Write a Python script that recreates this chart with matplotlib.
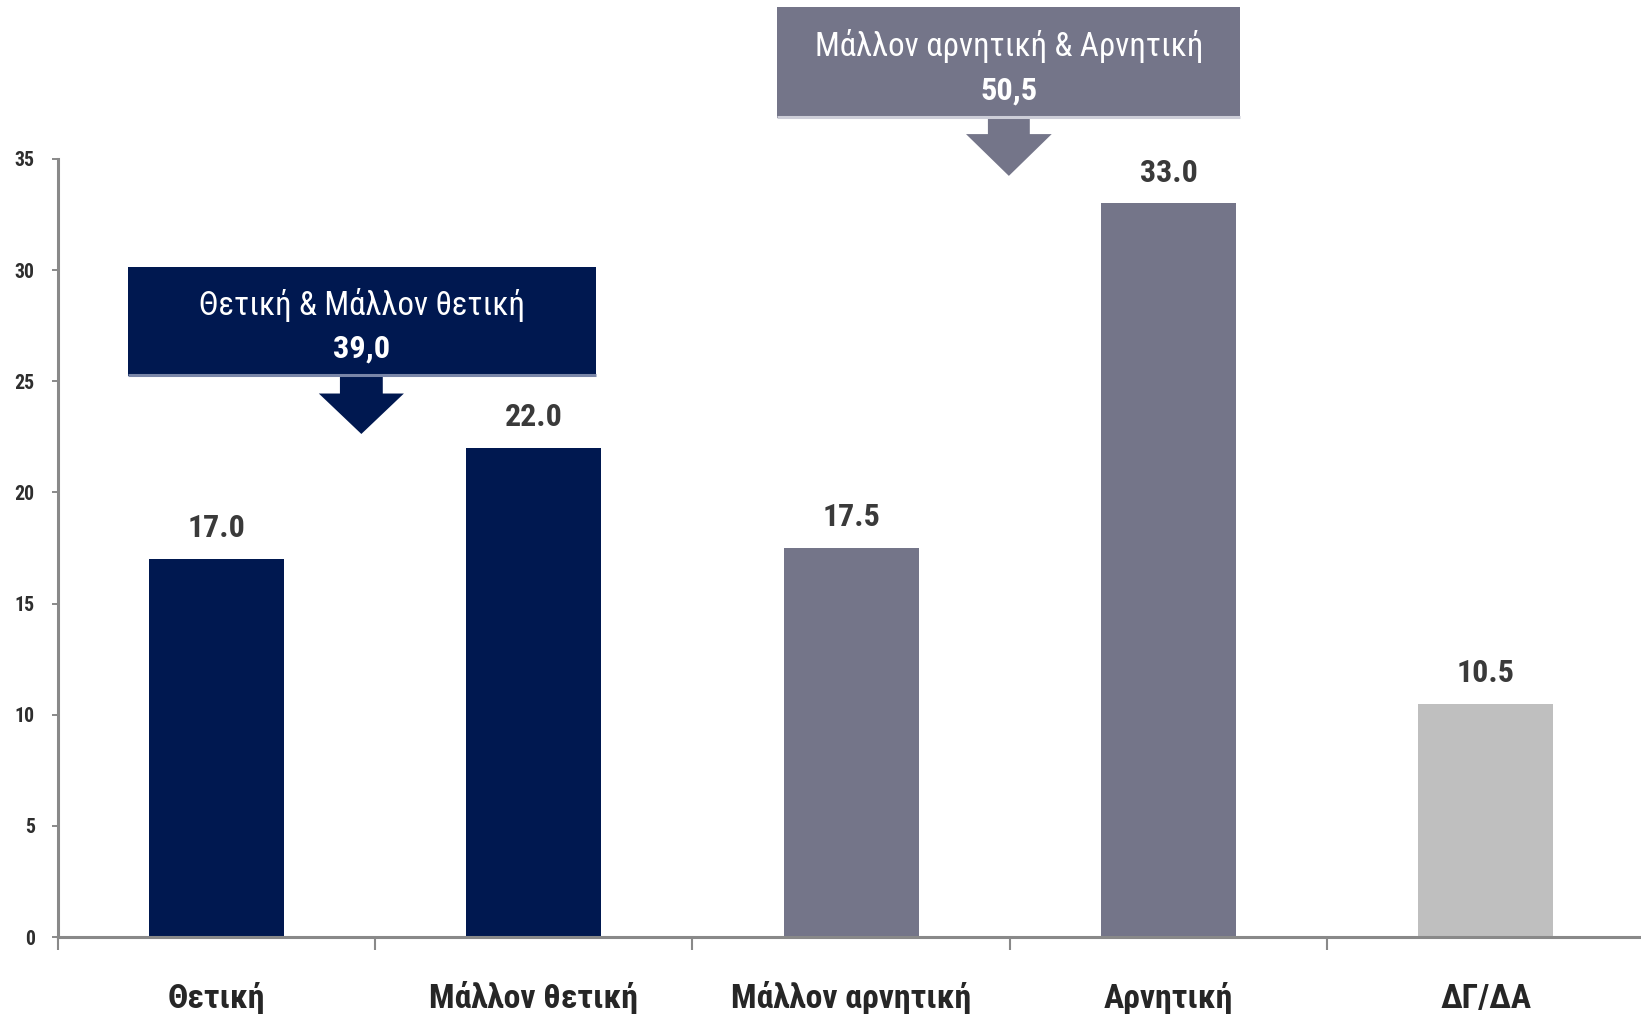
import matplotlib
matplotlib.use("Agg")
import math
import matplotlib.pyplot as plt
from matplotlib.patches import Rectangle, Polygon
from matplotlib import font_manager
from matplotlib.font_manager import FontProperties
from matplotlib.textpath import TextPath
from matplotlib.ft2font import FT2Font

# ---------------- data ----------------
categories = ["Θετική", "Μάλλον θετική", "Μάλλον αρνητική", "Αρνητική", "ΔΓ/ΔΑ"]
values = [17.0, 22.0, 17.5, 33.0, 10.5]
bar_colors = ["#001850", "#001850", "#747589", "#747589", "#BFBFBF"]
yticks = [0, 5, 10, 15, 20, 25, 30, 35]

group_labels = ["Θετική & Μάλλον θετική", "Μάλλον αρνητική & Αρνητική"]
group_values = ["39,0", "50,5"]
group_colors = ["#001850", "#747589"]


# ---------------- font choice (condensed if available) ----------------
def _w(f):
    w = f.weight
    if isinstance(w, str):
        w = font_manager.weight_dict.get(w, 400)
    return int(w)


def _has_greek(path):
    try:
        return FT2Font(path).get_char_index(ord("Θ")) != 0
    except Exception:
        return False


def pick_family(cands):
    tl = font_manager.fontManager.ttflist
    for name in cands:
        ent = [f for f in tl if f.name == name and f.style == "normal"]
        bold = [f for f in ent if _w(f) >= 600]
        reg = [f for f in ent if 350 <= _w(f) <= 500]
        if bold and reg and _has_greek(bold[0].fname) and _has_greek(reg[0].fname):
            return name
    return "Liberation Sans"


FAM = pick_family(["Liberation Sans Narrow", "Arial Narrow", "Roboto Condensed",
                   "Open Sans Condensed", "Fira Sans Condensed",
                   "IBM Plex Sans Condensed", "Noto Sans Condensed"])
plt.rcParams["font.family"] = [FAM, "DejaVu Sans"]

DPI = 100
fig = plt.figure(figsize=(16.41, 10.14), dpi=DPI)
renderer = fig.canvas.get_renderer()


def fit(s, target_w_px, target_cap_px, weight):
    t = fig.text(0, 0, s, fontsize=20, fontweight=weight)
    w = t.get_window_extent(renderer).width
    t.remove()
    size_w = 20 * target_w_px / w
    tp = TextPath((0, 0), "H", size=100, prop=FontProperties(family=FAM, weight=weight))
    cap_ratio = tp.get_extents().height / 100.0
    size_h = target_cap_px / cap_ratio * 72.0 / DPI
    return math.sqrt(size_w * size_h)


fs_cat = fit("Μάλλον θετική", 210, 24, "bold")
fs_val = fit("17.0", 57, 23, "bold")
fs_box = fit("Θετική & Μάλλον θετική", 323, 23.5, "normal")
fs_boxv = fit("39,0", 56, 23.5, "bold")
fs_y = fit("35", 19, 15, "bold")

ax = fig.add_axes([0.0351, 0.0759, 0.9671, 0.7673])

x = list(range(len(categories)))
ax.bar(x, values, width=0.425, color=bar_colors, zorder=2)
ax.set_xlim(-0.5, len(categories) - 0.5)
ax.set_ylim(0, 35)

for xi, v in zip(x, values):
    ax.annotate(f"{v:.1f}", (xi, v), xytext=(0, 15.8), textcoords="offset points",
                ha="center", va="baseline", fontsize=fs_val, fontweight="bold",
                color="#3A3A3A")

for s in ["top", "right"]:
    ax.spines[s].set_visible(False)
for s in ["left", "bottom"]:
    ax.spines[s].set_color("#898989")
    ax.spines[s].set_linewidth(2.2)

ax.set_yticks(yticks)
ax.set_yticklabels([str(t) for t in yticks], fontweight="bold", fontsize=fs_y,
                   color="#2E2E2E")
ax.tick_params(axis="y", length=4.5, width=1.4, color="#898989", pad=12)

ax.set_xticks(x)
ax.set_xticklabels(categories, fontsize=fs_cat, fontweight="bold", color="#262626")
ax.tick_params(axis="x", which="major", length=0, pad=51)
for lbl in ax.get_xticklabels():
    lbl.set_verticalalignment("baseline")
ax.set_xticks([i - 0.5 for i in range(len(categories) + 1)], minor=True)
ax.tick_params(axis="x", which="minor", length=9, width=1.5, color="#898989")

# ---------------- group callout boxes ----------------
boxes = [
    dict(x0=-0.279, x1=1.195, y0=25.25, y1=30.14, tipx=0.457, head=24.45, tip=22.63,
         shaft=0.0675, hw=0.134, line="#7A86A8"),
    dict(x0=1.768, x1=3.226, y0=36.85, y1=41.85, tipx=2.497, head=36.12, tip=34.24,
         shaft=0.066, hw=0.135, line="#CDCED8"),
]
for b, lab, val, col in zip(boxes, group_labels, group_values, group_colors):
    h = b["y1"] - b["y0"]
    ax.add_patch(Rectangle((b["x0"], b["y0"]), b["x1"] - b["x0"], h,
                           facecolor=col, edgecolor="none", clip_on=False, zorder=3))
    ax.plot([b["x0"], b["x1"]], [b["y0"] + 0.05, b["y0"] + 0.05], color=b["line"], lw=2.2,
            clip_on=False, zorder=4, solid_capstyle="butt")
    cx = b["tipx"]
    pts = [(cx - b["shaft"], b["y0"] - 0.02), (cx + b["shaft"], b["y0"] - 0.02),
           (cx + b["shaft"], b["head"]), (cx + b["hw"], b["head"]),
           (cx, b["tip"]), (cx - b["hw"], b["head"]), (cx - b["shaft"], b["head"])]
    ax.add_patch(Polygon(pts, closed=True, facecolor=col, edgecolor="none",
                         clip_on=False, zorder=3))
    mx = (b["x0"] + b["x1"]) / 2
    ax.text(mx, b["y1"] - 0.443 * h, lab, ha="center", va="baseline",
            fontsize=fs_box, color="white", zorder=5, clip_on=False)
    ax.text(mx, b["y1"] - 0.835 * h, val, ha="center", va="baseline",
            fontsize=fs_boxv, fontweight="bold", color="white", zorder=5, clip_on=False)

fig.savefig("out.png", dpi=DPI)
